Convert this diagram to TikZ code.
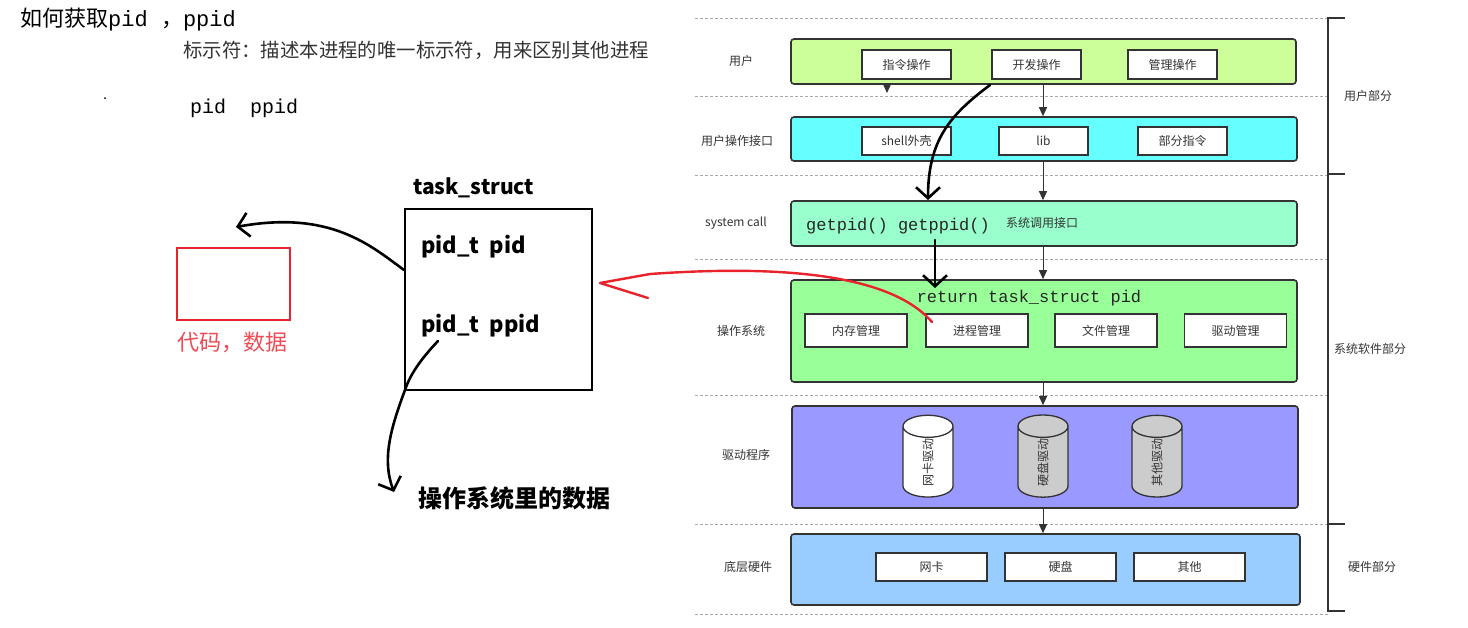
\documentclass[tikz,border=0pt]{standalone}
\usepackage{fontspec}
\usetikzlibrary{arrows.meta,shapes.geometric}
\newfontfamily\cjk{Noto Sans CJK SC}
\newfontfamily\mono{Liberation Mono}
\setmainfont{Noto Sans CJK SC}
\definecolor{dk}{HTML}{333333}
\definecolor{cUser}{HTML}{CCFF99}
\definecolor{cIf}{HTML}{66FFFF}
\definecolor{cSys}{HTML}{99FFCC}
\definecolor{cOS}{HTML}{99FF99}
\definecolor{cDrv}{HTML}{9999FF}
\definecolor{cHw}{HTML}{99CCFF}
\definecolor{cRed}{HTML}{E8232C}
\definecolor{cRedT}{HTML}{EE4B55}
\definecolor{cGray}{HTML}{CCCCCC}
\newcommand{\fs}[1]{\fontsize{#1}{#1}\selectfont}
\tikzset{
  layer/.style={draw=dk, line width=1.6pt, rounded corners=3pt, inner sep=0pt},
  ibox/.style={draw=dk, line width=1.3pt, fill=white, inner sep=0pt, font=\cjk\fs{12}, text=dk},
  lbl/.style={font=\cjk\fs{12}, text=dk, inner sep=0pt},
  flow/.style={draw=dk, line width=1pt, -{Triangle[length=9pt,width=8pt]}},
  sep/.style={draw=black!35, line width=0.8pt, dash pattern=on 3pt off 2pt},
  brk/.style={draw=dk, line width=1.6pt},
  cyl/.style={cylinder, draw=dk, line width=1.3pt, rotate=90, minimum width=50pt, minimum height=68pt, aspect=2, inner sep=0pt, font=\cjk\fs{12}, text=dk},
  hand/.style={draw=black, line width=2.6pt, line cap=round, line join=round},
  handarrow/.style={hand, -{Straight Barb[length=11pt,width=24pt,line width=2.6pt]}},
}
\begin{document}
\begin{tikzpicture}[x=1pt,y=-1pt]
\path[use as bounding box, fill=white] (0,0) rectangle (1468,627);

% ---------- left part ----------
\node[anchor=west, inner sep=0pt] (title) at (20,20) {\fs{22}{\cjk 如何获取}{\mono pid }{\cjk ，}{\mono ppid}};
\node[anchor=west, inner sep=0pt, text=black!80] (ident) at (183,50) {\cjk\fs{19.4}标示符：描述本进程的唯一标示符，用来区别其他进程};
\node[circle, fill=black, inner sep=0pt, minimum size=2pt] (dot) at (105,98) {};
\node[anchor=west, inner sep=0pt] (pp) at (190,108) {\mono\fs{20}pid\ \ ppid};

\node[anchor=west, inner sep=0pt] (tsname) at (413,188) {\cjk\bfseries\fs{21}task\_struct};
\node[draw=black, line width=2.5pt, minimum width=187pt, minimum height=181pt, inner sep=0pt] (ts) at (498.5,299.5) {};
\node[anchor=west, inner sep=0pt] (f1) at (421,247) {\cjk\bfseries\fs{22}pid\_t\ \ pid};
\node[anchor=west, inner sep=0pt] (f2) at (421,326) {\cjk\bfseries\fs{22}pid\_t\ \ ppid};

\node[draw=cRed, line width=2pt, minimum width=113pt, minimum height=72pt, inner sep=0pt] (code) at (233.5,284) {};
\node[inner sep=0pt, text=cRedT] (codel) at (232.5,342) {\cjk\fs{22}代码，数据};
\node[anchor=west, inner sep=0pt] (osdata) at (418,498) {\cjk\bfseries\fs{24}操作系统里的数据};

% hand-drawn arrows (left)
\coordinate (a1s) at (404,270);
\coordinate (a1e) at (236,227);
\draw[handarrow] (a1s) .. controls (370,245) and (330,210) .. (a1e);
\coordinate (a2s) at (438,341);
\coordinate (a2m) at (405,390);
\coordinate (a2e) at (394,492);
\draw[handarrow] (a2s) .. controls (420,360) and (410,375) .. (a2m) .. controls (390,430) and (382,460) .. (a2e);

% ---------- right diagram ----------
\foreach \yy in {18,96,175,259,395,524,614} {\draw[sep] (695,\yy) -- (1328,\yy);}

\draw[brk] (1345,18) -- (1328,18) -- (1328,611) -- (1345,611);
\draw[brk] (1328,174) -- (1345,174);
\draw[brk] (1328,524) -- (1345,524);
\node[lbl] (pUser) at (1368,96) {用户部分};
\node[lbl] (pSys) at (1370,349) {系统软件部分};
\node[lbl] (pHw) at (1372,567) {硬件部分};

\node[lbl] (lUser) at (741,61) {用户};
\node[lbl] (lIf) at (737,141) {用户操作接口};
\node[lbl] (lSys) at (736,223) {system call};
\node[lbl] (lOS) at (741,331) {操作系统};
\node[lbl] (lDrv) at (746,455) {驱动程序};
\node[lbl] (lHw) at (748,567) {底层硬件};

\node[layer, fill=cUser, minimum width=505pt, minimum height=45pt] (L1) at (1043.5,61.5) {};
\node[layer, fill=cIf, minimum width=506pt, minimum height=44pt] (L2) at (1044,139) {};
\node[layer, fill=cSys, minimum width=506pt, minimum height=45pt] (L3) at (1044,223.5) {};
\node[layer, fill=cOS, minimum width=506pt, minimum height=102pt] (L4) at (1044,331) {};
\node[layer, fill=cDrv, minimum width=506pt, minimum height=102pt] (L5) at (1045,457) {};
\node[layer, fill=cHw, minimum width=509pt, minimum height=71pt] (L6) at (1045.5,569.5) {};

\node[ibox, minimum width=89pt, minimum height=29pt] (u1) at (906.5,64.5) {指令操作};
\node[ibox, minimum width=89pt, minimum height=29pt] (u2) at (1036.5,64.5) {开发操作};
\node[ibox, minimum width=89pt, minimum height=29pt] (u3) at (1172.5,64.5) {管理操作};

\node[ibox, minimum width=89pt, minimum height=28pt] (i1) at (906.5,141) {shell外壳};
\node[ibox, minimum width=89pt, minimum height=28pt] (i2) at (1043.5,141) {lib};
\node[ibox, minimum width=89pt, minimum height=28pt] (i3) at (1182.5,141) {部分指令};

\node[anchor=west, inner sep=0pt, text=black!85] (gp) at (806,226) {\mono\fs{17}getpid()\ getppid()};
\node[lbl, anchor=west] (sci) at (1006,223) {系统调用接口};

\node[inner sep=0pt, text=black!85] (ret) at (1029,298) {\mono\fs{17}return task\_struct pid};
\node[ibox, minimum width=102pt, minimum height=33pt] (o1) at (856,330.5) {内存管理};
\node[ibox, minimum width=102pt, minimum height=33pt] (o2) at (977,330.5) {进程管理};
\node[ibox, minimum width=102pt, minimum height=33pt] (o3) at (1106,330.5) {文件管理};
\node[ibox, minimum width=102pt, minimum height=33pt] (o4) at (1235.5,330.5) {驱动管理};

\node[cyl, fill=white] (d1) at (928,462) {网卡驱动};
\node[cyl, fill=cGray] (d2) at (1043,462) {硬盘驱动};
\node[cyl, fill=cGray] (d3) at (1157,462) {其他驱动};

\node[ibox, minimum width=111pt, minimum height=28pt] (h1) at (931.5,567) {网卡};
\node[ibox, minimum width=111pt, minimum height=28pt] (h2) at (1060.5,567) {硬盘};
\node[ibox, minimum width=111pt, minimum height=28pt] (h3) at (1189.5,567) {其他};

\coordinate (ax) at (1043,0);
\draw[flow] (L1.south -| ax) -- (L2.north -| ax);
\draw[flow] (L2.south -| ax) -- (L3.north -| ax);
\draw[flow] (L3.south -| ax) -- (L4.north -| ax);
\draw[flow] (L4.south -| ax) -- (L5.north -| ax);
\draw[flow] (L5.south -| ax) -- (L6.north -| ax);
\coordinate (sa) at (887,93);
\draw[flow] (L1.south -| sa) -- (sa);

% hand-drawn arrows (right)
\coordinate (b1s) at (990,85);
\coordinate (b1e) at (928,200);
\draw[handarrow] (b1s) .. controls (950,115) and (928,140) .. (b1e);
\coordinate (b2s) at (935,240);
\coordinate (b2e) at (935,288);
\draw[handarrow] (b2s) -- (b2e);

\coordinate (r1) at (932,322);
\coordinate (r2) at (650,274);
\coordinate (r3) at (600,283);
\coordinate (r4) at (648,298);
\draw[draw=cRed, line width=2.4pt, line cap=round, line join=round]
  (r1) .. controls (900,285) and (820,262) .. (r2) -- (r3) -- (r4);
\end{tikzpicture}
\end{document}
